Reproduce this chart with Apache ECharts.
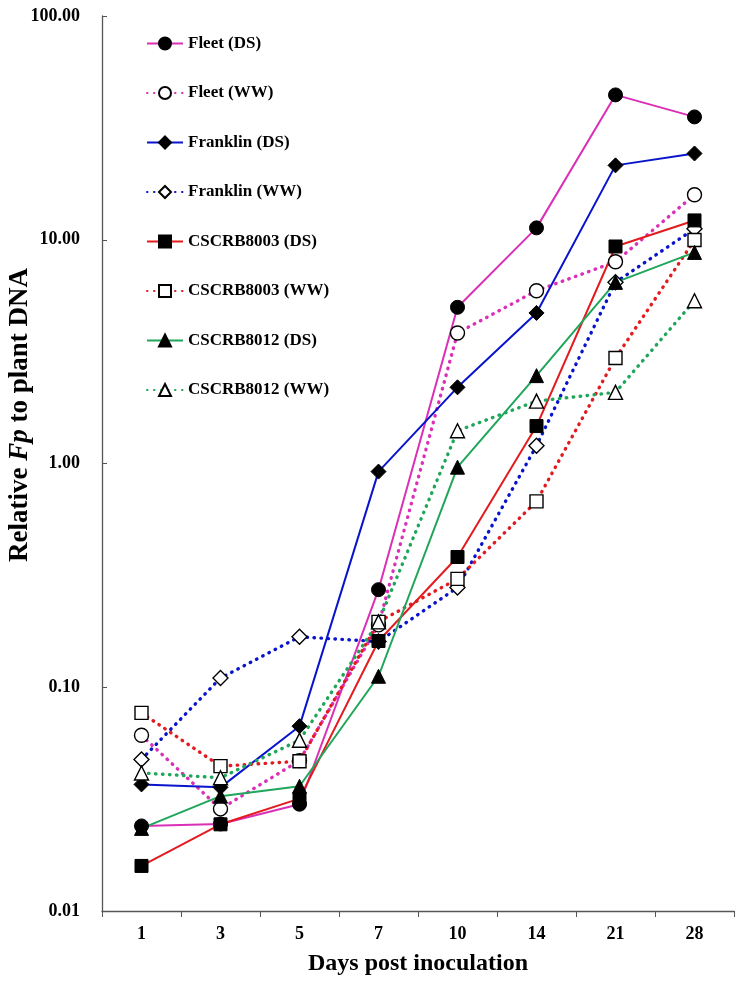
<!DOCTYPE html>
<html>
<head>
<meta charset="utf-8">
<script src="https://cdn.jsdelivr.net/npm/echarts@6/dist/echarts.min.js"></script>
<style>html,body{margin:0;padding:0;background:#fff;}#c{width:750px;height:985px;}</style>
</head>
<body>
<div id="c"></div>
<script>
const categories = ['1', '3', '5', '7', '10', '14', '21', '28'];
const yTicks = [0.01, 0.1, 1, 10, 100];
const fleetDS    = [0.024, 0.0245, 0.030, 0.273, 4.99, 11.3, 44.4, 35.4];
const fleetWW    = [0.061, 0.0286, 0.047, 0.19, 3.83, 5.92, 7.97, 15.9];
const franklinDS = [0.0368, 0.0357, 0.067, 0.92, 2.19, 4.71, 21.5, 24.3];
const franklinWW = [0.0476, 0.110, 0.168, 0.160, 0.279, 1.20, 6.45, 11.2];
const cs8003DS   = [0.0159, 0.0244, 0.0318, 0.161, 0.382, 1.47, 9.33, 12.2];
const cs8003WW   = [0.0768, 0.0444, 0.0467, 0.196, 0.305, 0.677, 2.96, 9.97];
const cs8012DS   = [0.0234, 0.0326, 0.0361, 0.112, 0.963, 2.47, 6.45, 8.78];
const cs8012WW   = [0.0414, 0.0394, 0.058, 0.196, 1.40, 1.90, 2.08, 5.34];

const FONT = '"Liberation Serif", "Times New Roman", serif';
const MAG = '#DA2FB6', BLUE = '#0814CC', RED = '#E21B1F', GREEN = '#1FA65A';

function mk(name, data, color, symbol, size, filled, dotted) {
  return {
    name: name, type: 'line', data: data,
    symbol: symbol, symbolSize: size,
    lineStyle: dotted
      ? { color: color, width: 3.4, type: [0.5, 6.5], cap: 'round' }
      : { color: color, width: 2 },
    itemStyle: filled
      ? { color: '#000', borderColor: '#000', borderWidth: 1 }
      : { color: '#fff', borderColor: '#000', borderWidth: 1.4 },
    emphasis: { disabled: true },
    animation: false
  };
}

const series = [
  mk('Fleet (DS)', fleetDS, MAG, 'circle', 14, true, false),
  mk('Fleet (WW)', fleetWW, MAG, 'circle', 14, false, true),
  mk('Franklin (DS)', franklinDS, BLUE, 'diamond', 15, true, false),
  mk('Franklin (WW)', franklinWW, BLUE, 'diamond', 15, false, true),
  mk('CSCRB8003 (DS)', cs8003DS, RED, 'rect', 13, true, false),
  mk('CSCRB8003 (WW)', cs8003WW, RED, 'rect', 13, false, true),
  mk('CSCRB8012 (DS)', cs8012DS, GREEN, 'triangle', 14, true, false),
  mk('CSCRB8012 (WW)', cs8012WW, GREEN, 'triangle', 14, false, true)
];

const chart = echarts.init(document.getElementById('c'), null, { renderer: 'canvas' });
chart.setOption({
  backgroundColor: '#fff',
  animation: false,
  grid: { left: 102, right: 16, top: 16, bottom: 74, containLabel: false, outerBoundsMode: 'none' },
  legend: {
    orient: 'vertical', left: 141, top: 30,
    itemWidth: 36, itemHeight: 15, itemGap: 32.5,
    textStyle: { fontFamily: FONT, fontWeight: 'bold', fontSize: 17, color: '#000', lineHeight: 17 },
    data: series.map(s => s.name)
  },
  graphic: [{
    type: 'text', x: 20, y: 415, rotation: Math.PI / 2,
    style: {
      text: '{b|Relative }{i|Fp}{b| to plant DNA}',
      align: 'center', verticalAlign: 'middle',
      rich: {
        b: { fontFamily: FONT, fontWeight: 'bold', fontSize: 27, fill: '#000' },
        i: { fontFamily: FONT, fontWeight: 'bold', fontStyle: 'italic', fontSize: 27, fill: '#000' }
      }
    }
  }],
  xAxis: {
    type: 'category', data: categories, boundaryGap: true,
    name: 'Days post inoculation', nameLocation: 'middle', nameGap: 41,
    nameTextStyle: { fontFamily: FONT, fontWeight: 'bold', fontSize: 24, color: '#000' },
    axisLine: { lineStyle: { color: '#555', width: 1.3 } },
    axisTick: { show: true, inside: false, length: 6, alignWithLabel: false, lineStyle: { color: '#555' } },
    axisLabel: { fontFamily: FONT, fontWeight: 'bold', fontSize: 18, color: '#000', margin: 14 },
    splitLine: { show: false }
  },
  yAxis: {
    type: 'log', logBase: 10, min: yTicks[0], max: yTicks[yTicks.length - 1],
    axisLine: { show: true, lineStyle: { color: '#555', width: 1.3 } },
    axisTick: { show: true, inside: true, length: 5, lineStyle: { color: '#555' } },
    axisLabel: {
      fontFamily: FONT, fontWeight: 'bold', fontSize: 18, color: '#000', margin: 22,
      formatter: v => Number(v).toFixed(2)
    },
    splitLine: { show: false },
    minorTick: { show: false }
  },
  series: series
});
</script>
</body>
</html>
